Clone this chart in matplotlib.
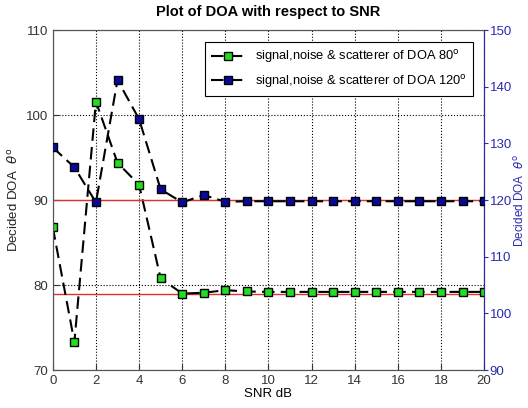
import matplotlib.pyplot as plt

plt.rcParams['font.family'] = ['Liberation Sans', 'DejaVu Sans']

# SNR values (dB)
snr = list(range(0, 21))

# Decided DOA for source at 80 deg (left axis)
doa_80 = [86.8, 73.3, 101.6, 94.4, 91.8, 80.8, 79.0, 79.1, 79.4, 79.25, 79.2,
          79.2, 79.2, 79.2, 79.2, 79.2, 79.2, 79.2, 79.2, 79.2, 79.2]

# Decided DOA for source at 120 deg (right axis)
doa_120 = [129.3, 125.8, 119.6, 141.2, 134.3, 121.9, 119.6, 120.9, 119.7, 119.8, 119.8,
           119.8, 119.8, 119.8, 119.8, 119.8, 119.8, 119.8, 119.8, 119.8, 119.8]

ref_80 = 79.0
ref_120 = 120.0

fig = plt.figure(figsize=(5.28, 4.08), dpi=100)
ax = fig.add_axes([0.100, 0.093, 0.817, 0.833])
ax2 = ax.twinx()

# reference lines
ax.axhline(ref_80, color='#e03030', lw=1.0, zorder=1)
ax2.axhline(ref_120, color='#e03030', lw=1.0, zorder=1)

l1, = ax.plot(snr, doa_80, color='black', lw=1.5, dashes=(6, 3),
              marker='s', ms=6, mfc='#22dd22', mec='black', mew=1.0,
              label='signal,noise & scatterer of DOA 80$^{\\rm o}$', zorder=3)
l2, = ax2.plot(snr, doa_120, color='black', lw=1.5, dashes=(6, 3),
               marker='s', ms=6, mfc='#0a0a9a', mec='black', mew=1.0,
               label='signal,noise & scatterer of DOA 120$^{\\rm o}$', zorder=3)

ax.set_xlim(0, 20)
ax.set_ylim(70, 110)
ax.set_xticks(range(0, 21, 2))
ax.set_yticks(range(70, 111, 10))
ax.grid(True, ls=':', color='black', lw=0.8)
ax.tick_params(direction='in', labelsize=9.5, length=4, colors='#333333')

ax2.set_ylim(90, 150)
ax2.set_yticks(range(90, 151, 10))
ax2.tick_params(direction='out', labelsize=9.5, length=3, pad=1, colors='#2a2ab0')
ax2.spines['right'].set_color('#2a2ab0')
for s in ['left', 'top', 'bottom']:
    ax2.spines[s].set_color('#555555')
    ax.spines[s].set_color('#555555')

ax.set_xlabel('SNR dB', fontsize=9.5, labelpad=1)
ax.set_ylabel('Decided DOA  $\\theta^{\\rm o}$', fontsize=9.5, color='#222222')
ax2.set_ylabel('Decided DOA  $\\theta^{\\rm o}$', fontsize=8.5, color='#2a2ab0',
               rotation=90, labelpad=1)
ax.set_title('Plot of DOA with respect to SNR', fontsize=10.5, fontweight='bold', pad=10)

leg = ax2.legend(handles=[l1, l2], loc='upper right', fontsize=9.3,
                 fancybox=False, edgecolor='black', framealpha=1,
                 bbox_to_anchor=(0.99, 0.985), handlelength=2.6,
                 borderpad=0.5, labelspacing=0.6)
leg.get_frame().set_linewidth(0.8)

fig.savefig('out.png', dpi=100)
